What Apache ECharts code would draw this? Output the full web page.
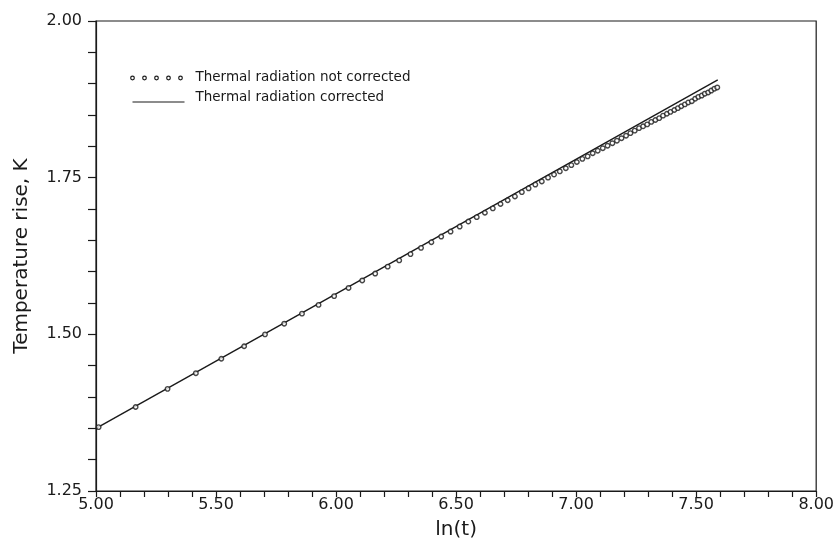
<!DOCTYPE html>
<html>
<head>
<meta charset="utf-8">
<script src="https://cdn.jsdelivr.net/npm/echarts@6/dist/echarts.min.js"></script>
<style>
  html, body { margin: 0; padding: 0; background: #fff; }
  #chart { width: 837px; height: 545px; }
</style>
</head>
<body>
<div id="chart"></div>
<script>
// ln(t) of each measured point
const lnT = [
  5.011, 5.165, 5.298, 5.416, 5.522, 5.617, 5.704, 5.784, 5.858, 5.927,
  5.992, 6.052, 6.109, 6.163, 6.215, 6.263, 6.310, 6.354, 6.397, 6.438,
  6.477, 6.515, 6.551, 6.586, 6.620, 6.653, 6.685, 6.715, 6.745, 6.774,
  6.802, 6.830, 6.857, 6.883, 6.908, 6.932, 6.957, 6.980, 7.003, 7.026,
  7.048, 7.069, 7.090, 7.111, 7.131, 7.151, 7.170, 7.189, 7.208, 7.226,
  7.244, 7.262, 7.279, 7.296, 7.313, 7.330, 7.346, 7.362, 7.378, 7.393,
  7.409, 7.424, 7.438, 7.453, 7.467, 7.482, 7.496, 7.509, 7.523, 7.536,
  7.550, 7.563, 7.576, 7.588
];
// temperature rise, not corrected for thermal radiation (K)
const riseNotCorrected = [
  1.352, 1.384, 1.413, 1.438, 1.461, 1.481, 1.500, 1.517, 1.533, 1.547,
  1.561, 1.574, 1.586, 1.597, 1.608, 1.618, 1.628, 1.638, 1.647, 1.656,
  1.664, 1.672, 1.680, 1.687, 1.694, 1.701, 1.708, 1.714, 1.720, 1.727,
  1.733, 1.739, 1.744, 1.750, 1.755, 1.760, 1.765, 1.770, 1.775, 1.780,
  1.784, 1.789, 1.793, 1.797, 1.801, 1.805, 1.809, 1.813, 1.817, 1.821,
  1.825, 1.829, 1.832, 1.835, 1.839, 1.842, 1.845, 1.849, 1.852, 1.855,
  1.858, 1.861, 1.864, 1.867, 1.870, 1.872, 1.876, 1.879, 1.881, 1.884,
  1.886, 1.889, 1.892, 1.894
];
// corrected curve is a straight line: end points
const lnTCorrected = [5.0, 7.59];
const riseCorrected = [1.350, 1.906];

const xTicks = [5.0, 5.5, 6.0, 6.5, 7.0, 7.5, 8.0];
const yTicks = [1.25, 1.5, 1.75, 2.0];

const FONT = "DejaVu Sans";
const INK = "#1a1a1a";

const chart = echarts.init(document.getElementById("chart"));

const option = {
  backgroundColor: "#fff",
  animation: false,
  grid: {
    left: 96, right: 19, top: 21, bottom: 51,
    show: true, borderColor: INK, borderWidth: 1.2, backgroundColor: "transparent",
  },
  xAxis: {
    type: "value",
    min: xTicks[0], max: xTicks[xTicks.length - 1], interval: 0.5,
    name: "ln(t)", nameLocation: "middle", nameGap: 29,
    nameTextStyle: { fontFamily: FONT, fontSize: 20, color: INK },
    axisLine: { lineStyle: { color: INK, width: 1.2 } },
    axisTick: { inside: false, length: 6, lineStyle: { color: INK, width: 1.2 } },
    minorTick: { show: true, splitNumber: 5, length: 6, lineStyle: { color: INK, width: 1.2 } },
    splitLine: { show: false },
    axisLabel: {
      fontFamily: FONT, fontSize: 16, color: INK, margin: 6,
      formatter: (v) => v.toFixed(2),
    },
  },
  yAxis: {
    type: "value",
    min: yTicks[0], max: yTicks[yTicks.length - 1], interval: 0.25,
    name: "Temperature rise, K", nameLocation: "middle", nameGap: 64,
    nameTextStyle: { fontFamily: FONT, fontSize: 20, color: INK },
    axisLine: { lineStyle: { color: INK, width: 1.2 } },
    axisTick: { inside: false, length: 8, lineStyle: { color: INK, width: 1.2 } },
    minorTick: { show: true, splitNumber: 5, length: 8, lineStyle: { color: INK, width: 1.2 } },
    splitLine: { show: false },
    axisLabel: {
      fontFamily: FONT, fontSize: 16, color: INK, margin: 14,
      formatter: (v) => v.toFixed(2),
    },
  },
  series: [
    {
      name: "Thermal radiation corrected",
      type: "line",
      data: lnTCorrected.map((x, i) => [x, riseCorrected[i]]),
      showSymbol: false,
      lineStyle: { color: INK, width: 1.4 },
      z: 2,
    },
    {
      name: "Thermal radiation not corrected",
      type: "scatter",
      data: lnT.map((x, i) => [x, riseNotCorrected[i]]),
      symbol: "circle",
      symbolSize: 4.5,
      itemStyle: { color: "#fff", borderColor: INK, borderWidth: 1.4 },
      z: 3,
    },
  ],
  graphic: [
    {
      type: "group", left: 130, top: 70,
      children: [0, 1, 2, 3, 4].map((k) => ({
        type: "circle",
        shape: { cx: k * 12, cy: 4, r: 1.8 },
        style: { fill: "#fff", stroke: INK, lineWidth: 1.2 },
      })).concat([
        {
          type: "text", x: 63, y: -4,
          style: { text: "Thermal radiation not corrected", font: `13.5px "${FONT}"`, fill: INK },
        },
        {
          type: "line",
          shape: { x1: 0, y1: 28, x2: 52, y2: 28 },
          style: { stroke: INK, lineWidth: 1.2 },
        },
        {
          type: "text", x: 63, y: 16,
          style: { text: "Thermal radiation corrected", font: `13.5px "${FONT}"`, fill: INK },
        },
      ]),
    },
  ],
};

chart.setOption(option);
</script>
</body>
</html>
